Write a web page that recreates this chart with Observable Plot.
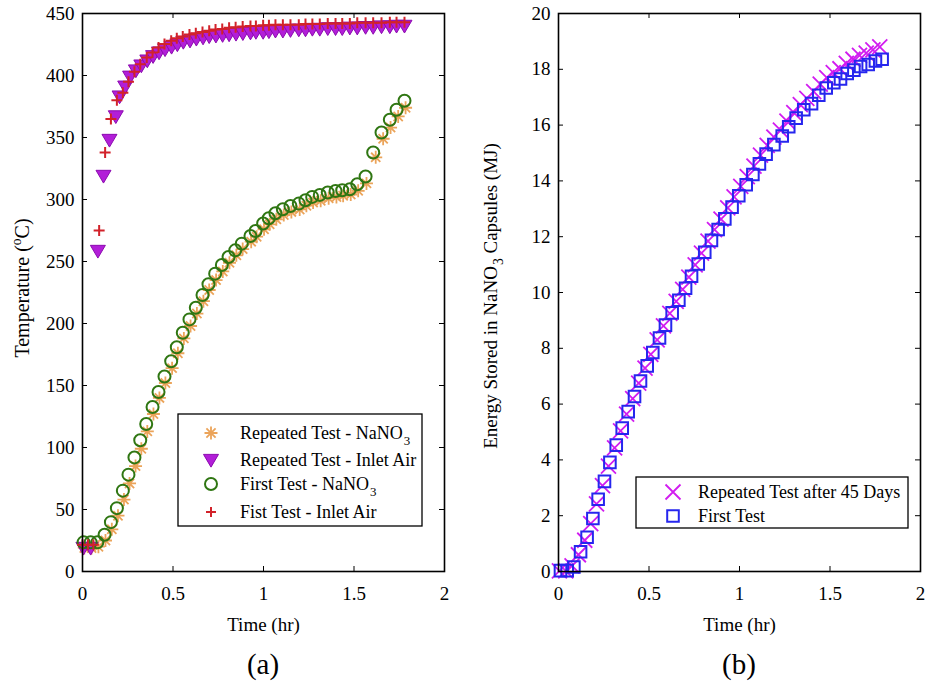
<!DOCTYPE html>
<html><head><meta charset="utf-8">
<script src="https://cdn.jsdelivr.net/npm/d3@7"></script>
<script src="https://cdn.jsdelivr.net/npm/@observablehq/plot@0.6"></script>
<style>
body{margin:0;background:#fff;}
#wrap{position:relative;width:926px;height:685px;overflow:hidden;font-family:"Liberation Serif","Times New Roman",serif;}
#wrap svg{position:absolute;top:0;}
</style></head><body><div id="wrap"></div>
<script>
// ---------- Data ----------
// (a) Temperature vs time
const repNaNO3Time = [0.01,0.05,0.088,0.127,0.162,0.196,0.229,0.26,0.293,0.325,0.358,0.392,0.425,0.458,0.495,0.527,0.56,0.597,0.632,0.668,0.70,0.738,0.775,0.812,0.85,0.885,0.932,0.962,1.003,1.034,1.071,1.112,1.154,1.2,1.237,1.274,1.316,1.36,1.403,1.44,1.482,1.523,1.569,1.62,1.661,1.702,1.744,1.785];
const repNaNO3Temp = [19,19,20,25,34,45,58,71,85,99,113,127,140,152,164,176,188,198,208,218,227,235,242,249,255,260,266,270,276,280,284,287.5,290,292,295,297.5,299,301,302,303,304,307,313,334,349,358,367,374];

const repAirTime = [0.005,0.045,0.085,0.116,0.149,0.184,0.205,0.236,0.263,0.295,0.325,0.358,0.39,0.423,0.456,0.492,0.524,0.557,0.594,0.629,0.666,0.70,0.737,0.774,0.81,0.848,0.886,0.928,0.958,0.998,1.03,1.066,1.107,1.149,1.195,1.232,1.27,1.311,1.355,1.398,1.435,1.477,1.518,1.564,1.606,1.652,1.698,1.735,1.779];
const repAirTemp = [19,19,258.5,319,348,367,383,391,399,404,408,412,415.5,418.5,421,423,425,427,428,429.5,430.5,431.5,432,432.5,433,433.5,434,434.5,435,435,435.5,436,436,436.5,437,437,437.5,437.5,438,438,438,438.5,438.5,439,439,439.5,439.5,440,440];

const firstNaNO3Time = [0.006,0.045,0.082,0.122,0.157,0.19,0.223,0.254,0.287,0.319,0.352,0.387,0.42,0.453,0.49,0.521,0.554,0.591,0.626,0.663,0.696,0.733,0.77,0.807,0.844,0.88,0.928,0.956,0.998,1.029,1.066,1.107,1.149,1.195,1.232,1.269,1.311,1.355,1.398,1.435,1.477,1.518,1.564,1.606,1.652,1.698,1.735,1.779];
const firstNaNO3Temp = [23.5,23.5,23.5,29.6,39.8,51.1,65.2,78.1,92,105.8,119,132.7,144.8,157.2,169.6,180.9,192.5,203.3,212.7,223,231.6,240.2,247.2,253.6,259,264.4,270.6,274.6,280.6,284.9,288.9,292.1,294.8,296.7,299.4,302.1,303.7,305.6,306.9,307.5,308.3,312.3,318.5,337.9,354,364.3,372.4,379.6];

const firstAirTime = [0.0,0.03,0.06,0.092,0.125,0.157,0.19,0.223,0.254,0.287,0.319,0.355,0.387,0.42,0.453,0.49,0.521,0.554,0.591,0.626,0.663,0.70,0.735,0.772,0.81,0.846,0.885,0.928,0.958,0.998,1.03,1.066,1.107,1.149,1.195,1.232,1.27,1.311,1.355,1.398,1.435,1.477,1.518,1.564,1.606,1.652,1.698,1.735,1.779];
const firstAirTemp = [21.5,21.5,21.5,275,338,365,380,386,395,403,409,414.5,418.5,422.5,425.5,428,430,431.5,433,434,435,436,437,437.5,438.5,439,439.5,440,440,440.5,440.5,441,441,441,441,441.5,441.5,441.5,442,442,442,442,442.5,442.5,442.5,442.5,443,443,443];

// (b) Energy stored vs time
const repEnergyTime = [0.005,0.04,0.075,0.11,0.145,0.178,0.21,0.243,0.276,0.31,0.343,0.376,0.41,0.443,0.478,0.51,0.545,0.58,0.615,0.65,0.686,0.72,0.755,0.79,0.826,0.862,0.898,0.935,0.97,1.007,1.043,1.08,1.116,1.153,1.19,1.226,1.262,1.3,1.336,1.372,1.41,1.446,1.482,1.518,1.555,1.59,1.627,1.663,1.7,1.737,1.775];
const repEnergy = [0.02,0.02,0.2,0.6,1.12,1.72,2.42,3.08,3.78,4.43,5.04,5.64,6.2,6.75,7.29,7.78,8.3,8.8,9.25,9.68,10.11,10.55,10.99,11.41,11.84,12.25,12.63,13.03,13.43,13.8,14.15,14.53,14.92,15.27,15.57,15.82,16.14,16.45,16.73,16.96,17.2,17.47,17.7,17.88,18.02,18.21,18.36,18.5,18.58,18.7,18.8];

const firstEnergyTime = [0.011,0.048,0.085,0.122,0.158,0.19,0.219,0.254,0.284,0.319,0.352,0.385,0.42,0.453,0.49,0.521,0.558,0.591,0.628,0.665,0.702,0.735,0.772,0.808,0.845,0.882,0.919,0.959,0.996,1.037,1.074,1.11,1.147,1.19,1.236,1.272,1.313,1.355,1.398,1.438,1.479,1.521,1.558,1.595,1.632,1.669,1.711,1.751,1.788];
const firstEnergy = [0.03,0.03,0.16,0.71,1.23,1.9,2.59,3.23,3.91,4.53,5.14,5.73,6.27,6.83,7.37,7.85,8.37,8.83,9.27,9.72,10.15,10.58,11.02,11.44,11.87,12.26,12.64,13.06,13.47,13.86,14.23,14.61,14.96,15.3,15.61,15.94,16.25,16.55,16.77,17.07,17.33,17.52,17.65,17.85,17.97,18.1,18.17,18.3,18.36];

// Tick values
const timeTicks = [0, 0.5, 1, 1.5, 2];
const tempTicks = [0, 50, 100, 150, 200, 250, 300, 350, 400, 450];
const energyTicks = [0, 2, 4, 6, 8, 10, 12, 14, 16, 18, 20];

// Labels
const legendA = ["Repeated Test - NaNO", "Repeated Test - Inlet Air", "First Test - NaNO", "Fist Test - Inlet Air"];
const legendB = ["Repeated Test after 45 Days", "First Test"];

// ---------- Styling ----------
const serif = '"Liberation Serif", "Times New Roman", serif';
const C = {ast:"#eba45a", triFill:"#b21ed8", triStroke:"#8c0ab0", circ:"#2f7612", plus:"#d2222a", times:"#d21cf0", sq:"#2626ee"};

const rad = size => Math.sqrt(size / Math.PI);
const sym = {
  asterisk: {draw(c, s){ const r = rad(s), d = r*Math.SQRT1_2;
    c.moveTo(-r,0); c.lineTo(r,0); c.moveTo(0,-r); c.lineTo(0,r);
    c.moveTo(-d,-d); c.lineTo(d,d); c.moveTo(-d,d); c.lineTo(d,-d); }},
  triDown: {draw(c, s){ const r = rad(s);
    c.moveTo(0, r*0.95); c.lineTo(-r, -r*0.75); c.lineTo(r, -r*0.75); c.closePath(); }},
  circle: {draw(c, s){ const r = rad(s); c.moveTo(r,0); c.arc(0,0,r,0,2*Math.PI); }},
  plus: {draw(c, s){ const r = rad(s); c.moveTo(-r,0); c.lineTo(r,0); c.moveTo(0,-r); c.lineTo(0,r); }},
  times: {draw(c, s){ const r = rad(s); c.moveTo(-r,-r); c.lineTo(r,r); c.moveTo(-r,r); c.lineTo(r,-r); }},
  square: {draw(c, s){ const r = rad(s); c.rect(-r,-r,2*r,2*r); }}
};

const SVG_H = 640;
function panel({width, marginLeft, marginRight, yDomain, yTicks, marks}) {
  const marginTop = 13, marginBottom = 69;
  const iw = width - marginLeft - marginRight, ih = SVG_H - marginTop - marginBottom;
  return Plot.plot({
    width, height: SVG_H, marginLeft, marginRight, marginTop, marginBottom,
    style: {fontFamily: serif, fontSize: "19px", color: "#000", background: "transparent", overflow: "visible"},
    x: {domain: [0, 2]},
    y: {domain: yDomain},
    marks: [
      ...marks,
      Plot.tickX(timeTicks, {x: d => d, insetTop: ih - 5, stroke: "#000", strokeWidth: 1}),
      Plot.tickX(timeTicks, {x: d => d, insetBottom: ih - 5, stroke: "#000", strokeWidth: 1}),
      Plot.tickY(yTicks, {y: d => d, insetRight: iw - 5, stroke: "#000", strokeWidth: 1}),
      Plot.tickY(yTicks, {y: d => d, insetLeft: iw - 5, stroke: "#000", strokeWidth: 1}),
      Plot.axisX({ticks: timeTicks, tickSize: 0, tickPadding: 15, tickFormat: d => String(d),
                  label: "Time (hr)", labelAnchor: "center", labelOffset: 59, labelArrow: "none"}),
      Plot.axisY({ticks: yTicks, tickSize: 0, tickPadding: 8, tickFormat: d => String(d), label: null}),
      Plot.frame({stroke: "#000", strokeWidth: 1.6})
    ]
  });
}

const pts = (t, v) => d3.zip(t, v);
const X = d => d[0], Y = d => d[1];

const chartA = panel({
  width: 463, marginLeft: 82, marginRight: 19, yDomain: [0, 450], yTicks: tempTicks,
  marks: [
    Plot.dot(pts(repNaNO3Time, repNaNO3Temp), {x: X, y: Y, symbol: sym.asterisk, r: 6.5, fill: "none", stroke: C.ast, strokeWidth: 1.8}),
    Plot.dot(pts(repAirTime, repAirTemp), {x: X, y: Y, symbol: sym.triDown, r: 7.5, fill: C.triFill, stroke: C.triStroke, strokeWidth: 1}),
    Plot.dot(pts(firstNaNO3Time, firstNaNO3Temp), {x: X, y: Y, symbol: sym.circle, r: 6, fill: "none", stroke: C.circ, strokeWidth: 2}),
    Plot.dot(pts(firstAirTime, firstAirTemp), {x: X, y: Y, symbol: sym.plus, r: 5.5, fill: "none", stroke: C.plus, strokeWidth: 2})
  ]
});
const chartB = panel({
  width: 463, marginLeft: 95, marginRight: 6, yDomain: [0, 20], yTicks: energyTicks,
  marks: [
    Plot.dot(pts(repEnergyTime, repEnergy), {x: X, y: Y, symbol: sym.times, r: 7.5, fill: "none", stroke: C.times, strokeWidth: 1.8}),
    Plot.dot(pts(firstEnergyTime, firstEnergy), {x: X, y: Y, symbol: sym.square, r: 5.8, fill: "none", stroke: C.sq, strokeWidth: 2})
  ]
});

const wrap = document.getElementById("wrap");
chartA.style.left = "0px";
chartB.style.left = "463px";
wrap.appendChild(chartA);
wrap.appendChild(chartB);

// ---------- Overlay: rotated y labels, legends, panel letters ----------
const ov = d3.select(wrap).append("svg").attr("width", 926).attr("height", 685)
  .style("left", "0px").style("pointer-events", "none")
  .attr("font-family", serif).attr("fill", "#000");

// text with sub/superscripts; baseline is restored on the following part
function rich(sel, parts, fs) {
  let shift = 0;
  parts.forEach(p => {
    if (typeof p === "string") {
      const t = sel.append("tspan").text(p);
      if (shift) { t.attr("dy", -shift); shift = 0; }
    } else if (p.sub) {
      sel.append("tspan").attr("dy", fs*0.32).attr("dx", 1).attr("font-size", fs*0.72).text(p.sub);
      shift = fs*0.32;
    } else if (p.sup) {
      sel.append("tspan").attr("dy", -fs*0.38).attr("font-size", fs*0.68).text(p.sup);
      shift = -fs*0.38;
    }
  });
}

// y labels
rich(ov.append("text").attr("transform", "translate(29,288) rotate(-90)").attr("text-anchor", "middle").attr("font-size", 20),
  ["Temperature (", {sup: "o"}, "C)"], 20);
rich(ov.append("text").attr("transform", "translate(497,296) rotate(-90)").attr("text-anchor", "middle").attr("font-size", 19),
  ["Energy Stored in NaNO", {sub: "3"}, " Capsules (MJ)"], 19);

// panel letters
ov.append("text").attr("x", 263).attr("y", 674).attr("text-anchor", "middle").attr("font-size", 29).text("(a)");
ov.append("text").attr("x", 739).attr("y", 674).attr("text-anchor", "middle").attr("font-size", 29).text("(b)");

// legend helper
function legend(box, items, symX, textX, rows, fs) {
  ov.append("rect").attr("x", box[0]).attr("y", box[1]).attr("width", box[2]).attr("height", box[3])
    .attr("fill", "#fff").attr("stroke", "#000").attr("stroke-width", 1.3);
  items.forEach((it, i) => {
    ov.append("path").attr("transform", `translate(${symX},${rows[i]})`)
      .attr("d", d3.symbol().type(it.symbol).size(Math.PI * it.r * it.r)())
      .attr("fill", it.fill || "none").attr("stroke", it.stroke).attr("stroke-width", it.sw);
    rich(ov.append("text").attr("x", textX).attr("y", rows[i] + 6).attr("font-size", fs), it.parts, fs);
  });
}
legend([178, 414, 244, 112], [
  {symbol: sym.asterisk, r: 6.5, stroke: C.ast, sw: 1.8, parts: [legendA[0], {sub: "3"}]},
  {symbol: sym.triDown, r: 7.5, fill: C.triFill, stroke: C.triStroke, sw: 1, parts: [legendA[1]]},
  {symbol: sym.circle, r: 6, stroke: C.circ, sw: 2, parts: [legendA[2], {sub: "3"}]},
  {symbol: sym.plus, r: 5, stroke: C.plus, sw: 2, parts: [legendA[3]]}
], 211, 240, [433, 460, 484, 512], 18);
legend([636, 477, 272, 51], [
  {symbol: sym.times, r: 7.5, stroke: C.times, sw: 1.8, parts: [legendB[0]]},
  {symbol: sym.square, r: 5.8, stroke: C.sq, sw: 2, parts: [legendB[1]]}
], 673, 698, [492, 516], 18);
</script>
</body></html>
